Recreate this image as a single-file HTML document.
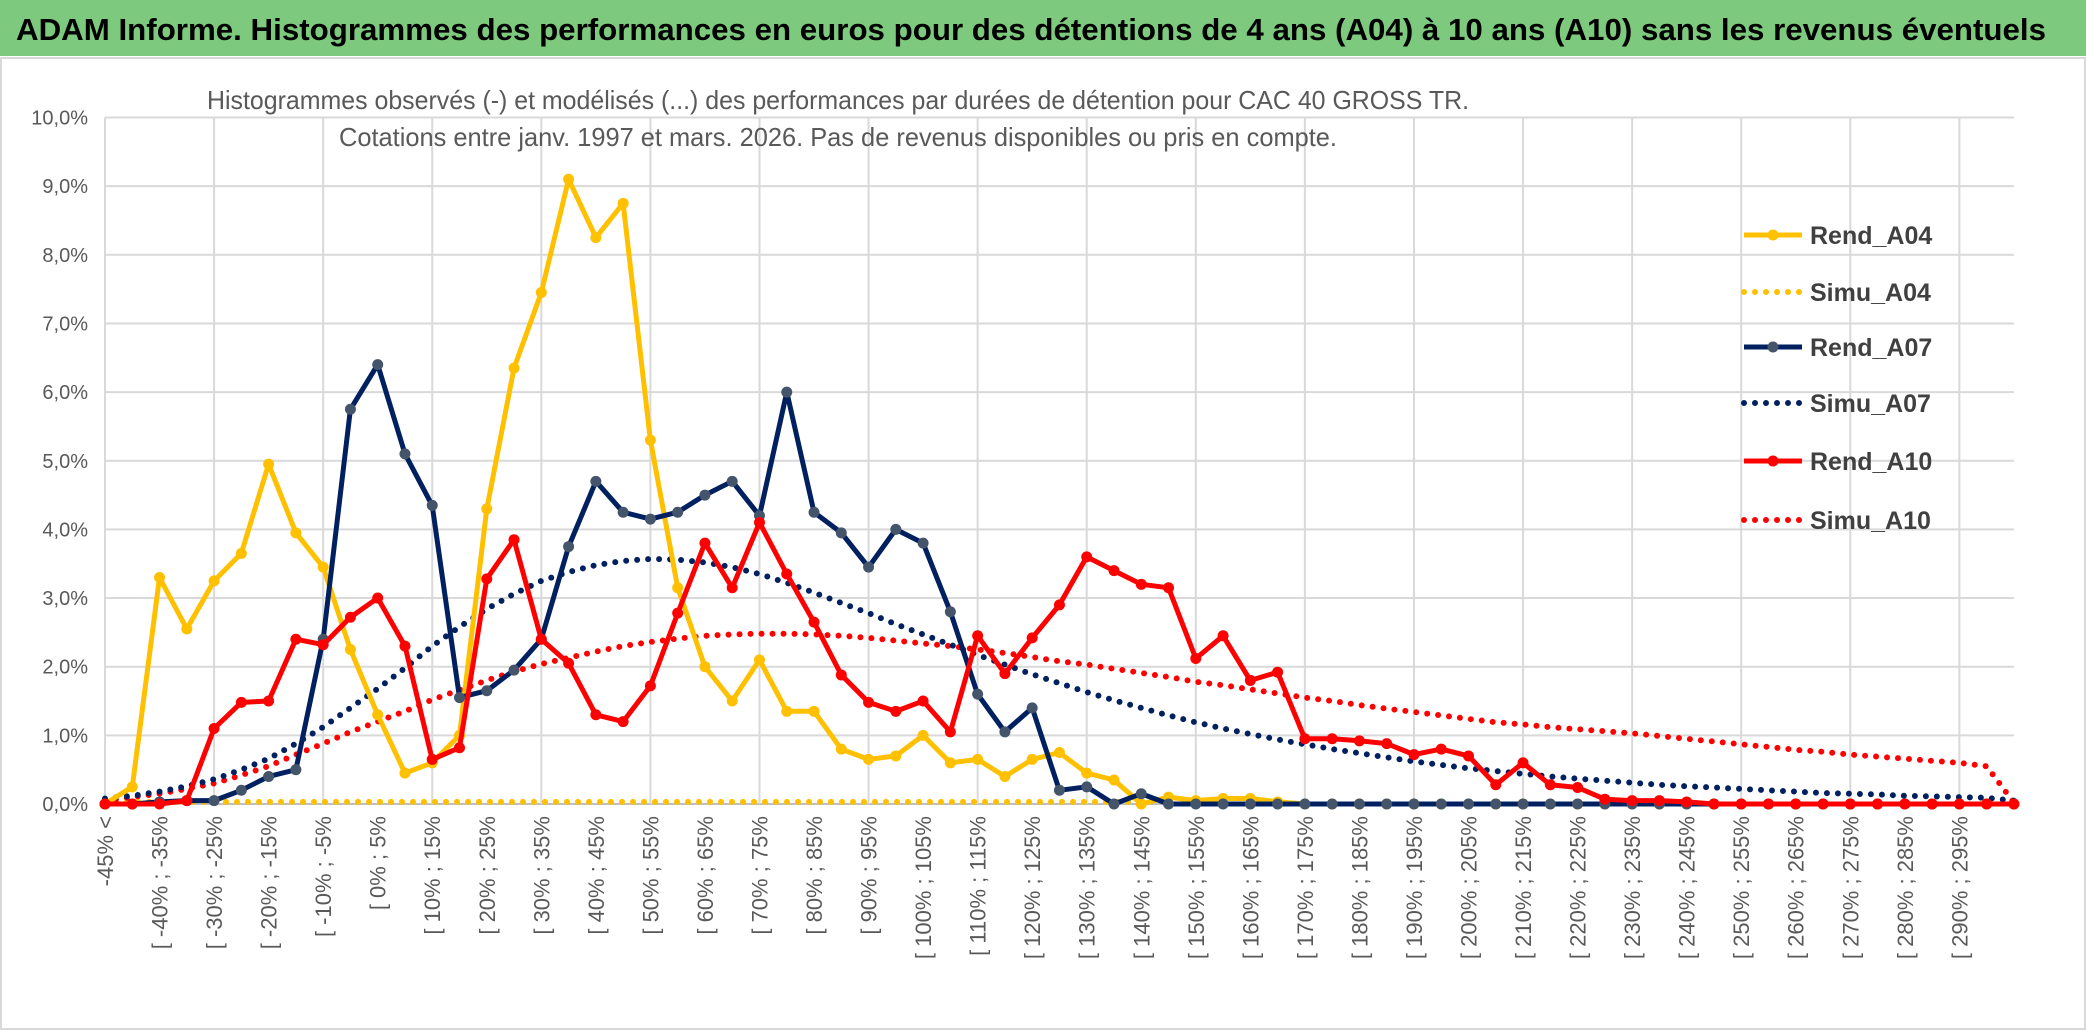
<!DOCTYPE html>
<html><head><meta charset="utf-8"><style>
html,body{margin:0;padding:0;background:#fff;}
svg{display:block;font-family:"Liberation Sans Narrow","Liberation Sans",sans-serif;}
</style></head><body>
<svg id="chart" width="2086" height="1031" viewBox="0 0 2086 1031">
<rect x="0" y="0" width="2086" height="1031" fill="#fff"/>
<rect x="0" y="0" width="2086" height="56" fill="#7dc97d"/>
<text x="16" y="40" font-size="31" font-weight="bold" fill="#000" textLength="2030" lengthAdjust="spacingAndGlyphs">ADAM Informe. Histogrammes des performances en euros pour des détentions de 4 ans (A04) à 10 ans (A10) sans les revenus éventuels</text>
<rect x="1" y="58" width="2084" height="971" fill="none" stroke="#d9d9d9" stroke-width="2"/>
<g id="grid"></g>
<text x="838" y="109" font-size="26" fill="#595959" text-anchor="middle" textLength="1262" lengthAdjust="spacingAndGlyphs">Histogrammes observés (-) et modélisés (...) des performances par durées de détention pour CAC 40 GROSS TR.</text>
<text x="838" y="146" font-size="26" fill="#595959" text-anchor="middle" textLength="998" lengthAdjust="spacingAndGlyphs">Cotations entre janv. 1997 et mars. 2026. Pas de revenus disponibles ou pris en compte.</text>
<g id="yaxis"></g>
<g id="xaxis"></g>
<g id="series"></g>
<g id="legend"></g>
</svg>
<script>
const rendA04 = [0,0.25,3.3,2.55,3.25,3.65,4.95,3.95,3.45,2.25,1.3,0.45,0.6,1.0,4.3,6.35,7.45,9.1,8.25,8.75,5.3,3.15,2.0,1.5,2.1,1.35,1.35,0.8,0.65,0.7,1.0,0.6,0.65,0.4,0.65,0.75,0.45,0.35,0.0,0.1,0.05,0.08,0.08,0.03,0,0,0,0,0,0,0,0,0,0,0,0,0,0,0,0,0,0,0,0,0,0,0,0,0,0,0];
const simuA04 = [0.03,0.03,0.03,0.03,0.03,0.03,0.03,0.03,0.03,0.03,0.03,0.03,0.03,0.03,0.03,0.03,0.03,0.03,0.03,0.03,0.03,0.03,0.03,0.03,0.03,0.03,0.03,0.03,0.03,0.03,0.03,0.03,0.03,0.03,0.03,0.03,0.03,0.03,0.03];
const rendA07 = [0,0,0.03,0.05,0.05,0.2,0.4,0.5,2.4,5.75,6.4,5.1,4.35,1.55,1.65,1.95,2.4,3.75,4.7,4.25,4.15,4.25,4.5,4.7,4.2,6.0,4.25,3.95,3.45,4.0,3.8,2.8,1.6,1.05,1.4,0.2,0.25,0.0,0.15,0,0,0,0,0,0,0,0,0,0,0,0,0,0,0,0,0,0,0,0,0,0,0,0,0,0,0,0,0,0,0,0];
const simuA07 = [0.08,0.12,0.18,0.26,0.36,0.5,0.66,0.88,1.12,1.4,1.68,1.98,2.3,2.58,2.84,3.06,3.25,3.38,3.48,3.54,3.57,3.56,3.52,3.45,3.35,3.22,3.08,2.93,2.78,2.62,2.47,2.32,2.17,2.03,1.89,1.76,1.63,1.51,1.4,1.29,1.19,1.1,1.02,0.94,0.87,0.8,0.74,0.68,0.62,0.57,0.52,0.48,0.44,0.4,0.37,0.34,0.31,0.28,0.26,0.24,0.22,0.2,0.18,0.16,0.15,0.14,0.12,0.11,0.1,0.09,0.05];
const rendA10 = [0,0,0,0.05,1.1,1.48,1.5,2.4,2.32,2.72,3.0,2.3,0.65,0.82,3.28,3.85,2.4,2.05,1.3,1.2,1.72,2.78,3.8,3.15,4.1,3.35,2.65,1.88,1.48,1.35,1.5,1.05,2.45,1.9,2.42,2.9,3.6,3.4,3.2,3.15,2.12,2.45,1.8,1.92,0.95,0.95,0.92,0.88,0.72,0.8,0.7,0.28,0.6,0.28,0.24,0.07,0.05,0.05,0.03,0,0,0,0,0,0,0,0,0,0,0,0];
const simuA10 = [0.05,0.1,0.15,0.22,0.3,0.42,0.55,0.72,0.88,1.05,1.2,1.35,1.52,1.66,1.8,1.93,2.04,2.13,2.22,2.3,2.36,2.41,2.45,2.47,2.48,2.48,2.47,2.45,2.42,2.38,2.34,2.3,2.25,2.2,2.14,2.08,2.03,1.97,1.91,1.85,1.78,1.73,1.67,1.61,1.55,1.5,1.44,1.39,1.34,1.29,1.24,1.19,1.16,1.12,1.09,1.06,1.03,0.99,0.95,0.91,0.87,0.83,0.79,0.76,0.72,0.69,0.66,0.63,0.6,0.55,0.02];
const yTicks = [0,1,2,3,4,5,6,7,8,9,10];
const yTickLabels = ["0,0%","1,0%","2,0%","3,0%","4,0%","5,0%","6,0%","7,0%","8,0%","9,0%","10,0%"];
const categories = ["-45% <"];
for (let k = 1; k <= 70; k++) { categories.push("[ " + (-50 + 5*k) + "% ; " + (-45 + 5*k) + "%"); }

const NS = "http://www.w3.org/2000/svg";
const X0 = 105, XSTEP = 27.27, Y0 = 804, YPX = 68.65;
const xs = i => X0 + i * XSTEP;
const ys = v => Y0 - v * YPX;
function mk(tag, attrs, parent) { const e = document.createElementNS(NS, tag); for (const k in attrs) e.setAttribute(k, attrs[k]); parent.appendChild(e); return e; }

const grid = document.getElementById('grid');
yTicks.forEach((t, i) => {
  const l = mk('line', {x1: X0, x2: xs(70), y1: ys(t), y2: ys(t), stroke: i === 0 ? '#bfbfbf' : '#d9d9d9', 'stroke-width': 2}, grid);
  
  
});
for (let i = 0; i <= 70; i += 4) {
  const l = mk('line', {x1: xs(i), x2: xs(i), y1: ys(0), y2: ys(10), stroke: '#d9d9d9', 'stroke-width': 2}, grid);
  
  
}
const yaxis = document.getElementById('yaxis');
yTicks.forEach((t, i) => {
  const tx = mk('text', {x: 88, y: ys(t) + 7, 'font-size': 20, fill: '#595959', 'text-anchor': 'end'}, yaxis);
  tx.textContent = yTickLabels[i];
  
  
});
const xaxis = document.getElementById('xaxis');
categories.forEach((c, i) => {
  if (i % 2 !== 0 || i > 68) return;
  const x = xs(i) + 8, y = 816;
  const tx = mk('text', {x: x, y: y, 'font-size': 22, fill: '#595959', 'text-anchor': 'end', transform: 'rotate(-90 ' + x + ' ' + y + ')'}, xaxis);
  tx.textContent = c;
  
  
});
const series = document.getElementById('series');
function drawLine(vals, color, dotted, name, marker) {
  const pts = vals.map((v, i) => xs(i).toFixed(1) + ',' + ys(v).toFixed(1)).join(' ');
  const a = dotted ? {points: pts, fill: 'none', stroke: color, 'stroke-width': 6, 'stroke-linecap': 'round', 'stroke-dasharray': '0 11'}
                   : {points: pts, fill: 'none', stroke: color, 'stroke-width': 5, 'stroke-linejoin': 'round'};
  const p = mk('polyline', a, series);
  
  
  if (marker) {
    vals.forEach((v, i) => {
      const c = mk('circle', {cx: xs(i), cy: ys(v), r: 5.5, fill: marker}, series);
      
      
    });
  }
}
drawLine(simuA04, '#FFC000', true, 'simu-a04-line');
drawLine(simuA10, '#FF0000', true, 'simu-a10-line');
drawLine(simuA07, '#002060', true, 'simu-a07-line');
drawLine(rendA04, '#FFC000', false, 'rend-a04-line', '#FFC000');
drawLine(rendA07, '#002060', false, 'rend-a07-line', '#44546A');
drawLine(rendA10, '#FF0000', false, 'rend-a10-line', '#FF0000');

const legend = document.getElementById('legend');
const legNames = ["Rend_A04","Simu_A04","Rend_A07","Simu_A07","Rend_A10","Simu_A10"];
const legColors = ['#FFC000','#FFC000','#002060','#002060','#FF0000','#FF0000'];
const legMarkers = ['#FFC000',null,'#44546A',null,'#FF0000',null];
const legY = [235, 292, 347, 403, 461, 520];
legNames.forEach((n, i) => {
  const g = mk('g', {}, legend);
  
  
  const y = legY[i];
  if (i % 2 === 1) mk('line', {x1: 1744, x2: 1802, y1: y, y2: y, stroke: legColors[i], 'stroke-width': 6, 'stroke-linecap': 'round', 'stroke-dasharray': '0 11'}, g);
  else { mk('line', {x1: 1744, x2: 1802, y1: y, y2: y, stroke: legColors[i], 'stroke-width': 5}, g); mk('circle', {cx: 1773, cy: y, r: 5.5, fill: legMarkers[i]}, g); }
  const t = mk('text', {x: 1810, y: y + 9, 'font-size': 25, 'font-weight': 'bold', fill: '#404040'}, g);
  t.textContent = n;
});
</script>
</body></html>
